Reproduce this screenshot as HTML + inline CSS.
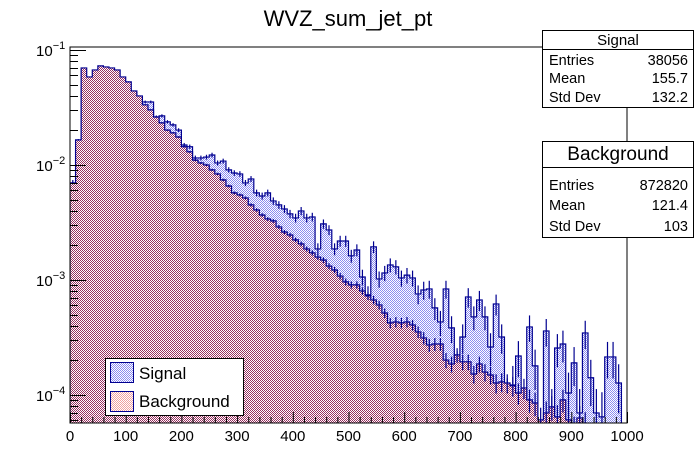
<!DOCTYPE html>
<html><head><meta charset="utf-8"><style>
body{margin:0;background:#fff;}
svg{display:block;font-family:"Liberation Sans",sans-serif;}
</style></head><body>
<svg id="c" width="696" height="472" viewBox="0 0 696 472">
<defs>
<pattern id="pb" width="2" height="2" patternUnits="userSpaceOnUse"><rect width="2" height="2" fill="#fff" shape-rendering="crispEdges"/><rect width="1" height="1" fill="#983060" shape-rendering="crispEdges"/><rect x="1" y="1" width="1" height="1" fill="#983060" shape-rendering="crispEdges"/></pattern>
<pattern id="ps" width="2" height="2" patternUnits="userSpaceOnUse"><rect width="2" height="2" fill="#fff" shape-rendering="crispEdges"/><rect width="1" height="1" fill="#8c8cf0" shape-rendering="crispEdges"/><rect x="1" y="1" width="1" height="1" fill="#8c8cf0" shape-rendering="crispEdges"/></pattern>
<pattern id="pbl" width="2" height="2" patternUnits="userSpaceOnUse"><rect width="2" height="2" fill="#fff"/><rect width="1" height="1" fill="#f0a0a0"/><rect x="1" y="1" width="1" height="1" fill="#f0a0a0"/></pattern>
<clipPath id="fc"><rect x="70" y="47" width="557" height="376"/></clipPath>
</defs>
<text x="348" y="26" font-size="22" text-anchor="middle">WVZ_sum_jet_pt</text>
<g id="plot" clip-path="url(#fc)"></g>
<rect x="70" y="47" width="557" height="376" fill="none" stroke="#000" stroke-width="1"/>
<g id="axes"></g>
<g>
<rect x="542.5" y="30.5" width="151" height="77" fill="#fff" stroke="#000"/>
<line x1="542" y1="49.5" x2="694" y2="49.5" stroke="#000"/>
<text x="618" y="45" font-size="15" text-anchor="middle">Signal</text>
<text x="549" y="65" font-size="14.5">Entries</text><text x="688" y="65" font-size="14.5" text-anchor="end">38056</text>
<text x="549" y="83" font-size="14.5">Mean</text><text x="688" y="83" font-size="14.5" text-anchor="end">155.7</text>
<text x="549" y="102" font-size="14.5">Std Dev</text><text x="688" y="102" font-size="14.5" text-anchor="end">132.2</text>
</g>
<g>
<rect x="542.5" y="141.5" width="151" height="96" fill="#fff" stroke="#000"/>
<line x1="542" y1="167.5" x2="694" y2="167.5" stroke="#000"/>
<text x="618" y="160" font-size="19" text-anchor="middle">Background</text>
<text x="549" y="190" font-size="14.5">Entries</text><text x="688" y="190" font-size="14.5" text-anchor="end">872820</text>
<text x="549" y="210" font-size="14.5">Mean</text><text x="688" y="210" font-size="14.5" text-anchor="end">121.4</text>
<text x="549" y="231" font-size="14.5">Std Dev</text><text x="688" y="231" font-size="14.5" text-anchor="end">103</text>
</g>
<g>
<rect x="105.5" y="358.5" width="138" height="57" fill="#fff" stroke="#000"/>
<g>
<rect x="110.5" y="362.5" width="23" height="20" fill="url(#ps)" stroke="#000090"/>
<text x="139" y="379" font-size="17">Signal</text></g>
<g>
<rect x="110.5" y="391.5" width="23" height="20" fill="url(#pbl)" stroke="#000090"/>
<text x="139" y="407" font-size="17">Background</text></g>
</g>
</svg>
<script>
const binEdges0 = 0, binWidth = 10;
const signalValues = [0.00697,0.0135,0.0467,0.0449,0.0467,0.0571,0.0548,0.0527,0.0506,0.0496,
0.0449,0.0423,0.0390,0.0353,0.0353,0.0261,0.0267,0.0237,0.0223,0.0201,
0.0149,0.0144,0.0115,0.0115,0.0117,0.0122,0.0104,0.0108,0.00906,0.00851,
0.00835,0.00697,0.00755,0.00571,0.00537,0.00571,0.00486,0.00449,0.00414,0.00375,
0.00346,0.00398,0.00346,0.00353,0.00186,0.00307,0.00272,0.00186,0.00218,0.00218,
0.00162,0.00182,0.00106,0.000741,0.00194,0.00102,0.00115,0.00135,0.00130,0.00104,
0.00110,0.00104,0.000755,0.000818,0.000835,0.000571,0.000431,0.000835,0.000383,0.000172,
0.000319,0.000711,0.000477,0.000670,0.000477,0.000261,0.000618,0.000319,0.0000906,0.000122,
0.000218,0,0.000390,0.000179,0,0.000360,0.0000697,0.000256,0.000277,0.000104,
0.000190,0.0000697,0.000346,0.000141,0.0000697,0.0000644,0.000214,0.000214,0.000127,0];
const backgroundValues = [0.00697,0.0165,0.0697,0.0582,0.0670,0.0726,0.0711,0.0697,0.0670,0.0582,
0.0527,0.0440,0.0398,0.0333,0.0301,0.0261,0.0232,0.0201,0.0190,0.0175,
0.0144,0.0130,0.0110,0.0104,0.0100,0.00906,0.00835,0.00741,0.00656,0.00571,
0.00548,0.00516,0.00449,0.00406,0.00367,0.00339,0.00326,0.00289,0.00261,0.00246,
0.00223,0.00206,0.00186,0.00172,0.00158,0.00149,0.00132,0.00122,0.00108,0.000961,
0.000906,0.000906,0.000802,0.000726,0.000670,0.000606,0.000516,0.000423,0.000431,0.000423,
0.000431,0.000406,0.000353,0.000313,0.000272,0.000277,0.000277,0.000201,0.000186,0.000223,
0.000194,0.000194,0.000152,0.000186,0.000158,0.000149,0.000127,0.000130,0.000127,0.000120,
0.000104,0.000115,0.0000906,0.0000851,0.0000607,0.0000697,0.0000787,0.0000644,0.0000906,0.0000607,
0.0000496,0.0000631,0.0000548,0.00004,0.00004,0.00004,0.00004,0.00004,0.00004,0.00004];
const signalEntries = 38056, backgroundEntries = 872820;
const xTickLabels = [0,100,200,300,400,500,600,700,800,900,1000];
const yDecades = [-4,-3,-2,-1];

const X0=70,X1=627,Y0=423,Y1=47, xmin=0,xmax=1000, lmin=Math.log10(5.7e-5), lmax=Math.log10(0.106);
const sx=v=>X0+(v-xmin)/(xmax-xmin)*(X1-X0);
const sy=v=>{ if(v<=0) return Y0+5; const y=Y1+(lmax-Math.log10(v))/(lmax-lmin)*(Y0-Y1); return Math.min(y,Y0+5);};
const NS="http://www.w3.org/2000/svg";
const plot=document.getElementById('plot'), axes=document.getElementById('axes');
function mk(tag,attrs,parent){const e=document.createElementNS(NS,tag);for(const k in attrs)e.setAttribute(k,attrs[k]);parent.appendChild(e);return e;}

function histPath(vals){
  let d='M'+sx(0)+','+(Y0+5);
  vals.forEach((v,i)=>{const y=sy(v);d+=' L'+sx(i*binWidth)+','+y+' L'+sx((i+1)*binWidth)+','+y;});
  d+=' L'+sx(vals.length*binWidth)+','+(Y0+5);
  return d;
}
function drawHist(vals,fill,name,entries){
  const g=mk('g',{},plot);
  
  
  const d=histPath(vals);
  mk('path',{d:d+' Z',fill:fill,stroke:'none'},g);
  mk('path',{d:d,fill:'none',stroke:'#000090','stroke-width':1.2},g);
  vals.forEach((v,i)=>{
    if(v<=0) return;
    const n=v*entries, e=v/Math.sqrt(n);
    const cx=sx((i+0.5)*binWidth);
    const ln=mk('line',{x1:cx,x2:cx,y1:sy(v+e),y2:sy(Math.max(v-e,1e-6)),stroke:'#000090','stroke-width':1.2},g);
    
    
  });
}
drawHist(signalValues,'url(#ps)','signal-histogram',signalEntries);
drawHist(backgroundValues,'url(#pb)','background-histogram',backgroundEntries*0.25);

for(let v=0;v<=1000;v+=20){
  const x=sx(v)+0.5, big=v%100===0;
  mk('line',{x1:x,x2:x,y1:Y0,y2:Y0-(big?11:6),stroke:'#000'},axes);
}
xTickLabels.forEach(v=>{
  const t=mk('text',{x:sx(v),y:441,'font-size':15,'text-anchor':'middle'},axes);
  t.textContent=v;
  
  
});
for(let dcd=-5;dcd<=-1;dcd++){
  for(let m=1;m<=9;m++){
    const v=m*Math.pow(10,dcd); const y=sy(v);
    if(y<Y1||y>Y0) continue;
    mk('line',{x1:X0,x2:X0+(m===1?16:8),y1:Math.round(y)+0.5,y2:Math.round(y)+0.5,stroke:'#000'},axes);
  }
}
yDecades.forEach(p=>{
  const y=sy(Math.pow(10,p));
  const t=mk('text',{x:36,y:y+6,'font-size':15},axes);
  
  
  t.textContent='10';
  const s=mk('tspan',{dy:-7,'font-size':11},t); s.textContent='\u2212'+(-p);
});
</script>
</body></html>
